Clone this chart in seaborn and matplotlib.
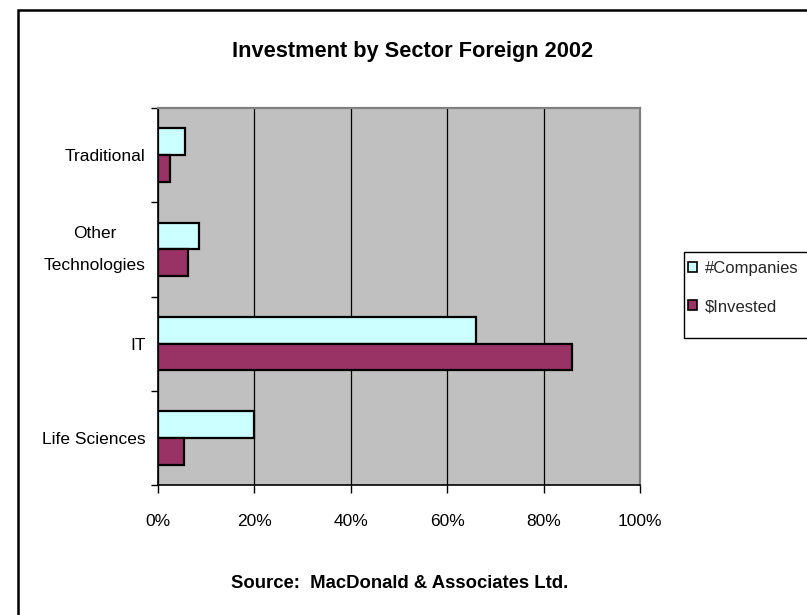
import matplotlib
matplotlib.use("Agg")
import matplotlib.pyplot as plt
from matplotlib.patches import Rectangle, Patch
from matplotlib.ticker import FixedLocator
import seaborn as sns
import pandas as pd

# Share of foreign investment by sector, 2002 (percent)
sectors = ["Traditional", "Other\nTechnologies", "IT", "Life Sciences"]
companies = [5.6, 8.5, 65.9, 20.0]
invested = [2.4, 6.2, 85.9, 5.4]
series_names = ["#Companies", "$Invested"]
x_ticks = [0, 20, 40, 60, 80, 100]
x_tick_labels = ["0%", "20%", "40%", "60%", "80%", "100%"]

title = "Investment by Sector Foreign 2002"
source = "Source:  MacDonald & Associates Ltd."

colors = {"#Companies": "#CCFFFF", "$Invested": "#993366"}

df = pd.DataFrame({
    "sector": sectors * 2,
    "series": [series_names[0]] * len(sectors) + [series_names[1]] * len(sectors),
    "value": companies + invested,
})

sns.set_theme(style="ticks")
plt.rcParams["font.family"] = ["Liberation Sans", "DejaVu Sans"]

W, H = 807, 615
fig = plt.figure(figsize=(W / 100, H / 100), dpi=100)
fig.patch.set_facecolor("white")

left, right, top, bottom = 158, 640, 108, 485
ax = fig.add_axes([left / W, 1 - bottom / H, (right - left) / W, (bottom - top) / H])
ax.set_facecolor("#C0C0C0")

sns.barplot(
    data=df, y="sector", x="value", hue="series", order=sectors,
    hue_order=series_names, palette=colors, orient="h", width=0.57,
    edgecolor="black", linewidth=1.6, saturation=1, ax=ax, legend=False,
)

ax.set_xlim(0, 100)
ax.set_ylim(len(sectors) - 0.5, -0.5)
ax.set_xticks(x_ticks)
ax.set_xticklabels(x_tick_labels)
ax.set_xlabel("")
ax.set_ylabel("")
ax.xaxis.grid(True, color="black", linewidth=0.9)
ax.yaxis.grid(False)
ax.set_axisbelow(True)

# Category labels centred in each band, tick marks on the band boundaries
ax.yaxis.set_minor_locator(FixedLocator([i - 0.5 for i in range(len(sectors) + 1)]))
ax.tick_params(axis="y", which="major", length=0, pad=9, labelsize=12.5, colors="black")
ax.tick_params(axis="y", which="minor", length=5, width=1, color="black", direction="out")
ax.tick_params(axis="x", which="major", length=6, width=1, color="black",
               direction="out", pad=15, labelsize=12.5, labelcolor="black")
for lab in ax.get_yticklabels():
    if "\n" in lab.get_text():
        lab.set_multialignment("center")
        lab.set_linespacing(2.4)
        lab.set_verticalalignment("center")

for side in ["left", "bottom"]:
    ax.spines[side].set_color("black")
    ax.spines[side].set_linewidth(1.2)
for side in ["top", "right"]:
    ax.spines[side].set_visible(True)
    ax.spines[side].set_color("#808080")
    ax.spines[side].set_linewidth(1.6)

fig.text(413 / W, 1 - 57 / H, title, ha="center", va="baseline",
         fontsize=15.7, fontweight="bold", color="black")
fig.text(400 / W, 1 - 588 / H, source, ha="center", va="baseline",
         fontsize=13.3, fontweight="bold", color="black")

# Legend box running off the right edge, with the entries placed inside it
fig.add_artist(Rectangle((684 / W, 1 - 338 / H), 0.5, 86 / H, transform=fig.transFigure,
                         facecolor="white", edgecolor="black", linewidth=1.0, zorder=2))
handles = [Patch(facecolor=colors[n], edgecolor="black", linewidth=1.2) for n in series_names]
leg = fig.legend(handles, series_names, loc="upper left",
                 bbox_to_anchor=(688 / W, 1 - 261 / H), fontsize=12,
                 frameon=False, handlelength=0.55, handleheight=0.55, handletextpad=0.45,
                 borderpad=0, labelspacing=1.4, borderaxespad=0)
leg.set_zorder(3)

# Outer chart border
fig.add_artist(Rectangle((18 / W, -0.2), 1.5, 1.2 - 10 / H, transform=fig.transFigure,
                         fill=False, edgecolor="black", linewidth=1.8))

fig.savefig("out.png", dpi=100)
